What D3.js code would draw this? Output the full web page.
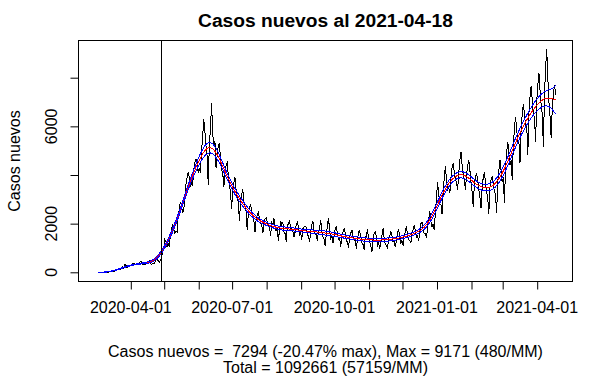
<!DOCTYPE html>
<html>
<head>
<meta charset="utf-8">
<script src="https://cdn.jsdelivr.net/npm/d3@7"></script>
<style>
  html, body { margin: 0; padding: 0; background: #fff; }
  svg text { font-family: "Liberation Sans", Arial, sans-serif; fill: #000; }
</style>
</head>
<body>
<script>
// ---------- data ----------
const startDate = "2020-03-03";
const casos = [
  1, 1, 2, 1, 3, 2, 3,
  4, 6, 10, 12, 18, 14, 40,
  45, 37, 104, 92, 97, 102, 114,
  176, 220, 164, 304, 299, 184, 250,
  289, 300, 293, 362, 373, 320, 310,
  301, 340, 380, 426, 450, 330, 330,
  312, 357, 355, 420, 481, 390, 330,
  345, 343, 400, 494, 552, 473, 420,
  480, 560, 850, 1000, 1350, 1250, 1050,
  1200, 1050, 1500, 1750, 2000, 1800, 1600,
  1700, 1650, 2300, 2600, 2900, 2700, 2450,
  2600, 3000, 3600, 3900, 4100, 3900, 3500,
  3700, 3600, 4200, 4500, 4650, 4500, 4100,
  4300, 4100, 5000, 5600, 6300, 5800, 5200,
  4800, 3600, 5300, 5900, 6950, 5700, 5200,
  5400, 4300, 4800, 5200, 5300, 4700, 4200,
  4100, 3500, 4000, 4400, 4500, 4000, 3600,
  3300, 2600, 3400, 3700, 3900, 3400, 3100,
  2900, 2100, 2900, 3200, 3400, 2900, 2700,
  2500, 1750, 2400, 2650, 2800, 2500, 2300,
  2100, 1650, 2150, 2350, 2450, 2200, 2000,
  1950, 1600, 2000, 2200, 2250, 2050, 1900,
  1900, 1500, 2050, 1950, 2230, 1850, 1700,
  1800, 1300, 1750, 2100, 1950, 2050, 1650,
  1600, 1260, 1900, 2000, 2150, 1750, 1800,
  1700, 1450, 1650, 1950, 2050, 1900, 1550,
  1650, 1350, 1800, 1850, 1900, 1850, 1500,
  1500, 1250, 1650, 1950, 2100, 1700, 1600,
  1550, 1300, 1700, 1800, 2150, 1650, 1450,
  1350, 1080, 1550, 1900, 2230, 1750, 1400,
  1500, 1200, 1450, 1800, 1850, 1600, 1350,
  1400, 1050, 1550, 1650, 1800, 1650, 1300,
  1250, 1000, 1500, 1600, 1750, 1500, 1350,
  1300, 980, 1350, 1650, 1700, 1450, 1200,
  1150, 920, 1400, 1500, 1780, 1400, 1250,
  1100, 850, 1350, 1600, 1650, 1500, 1100,
  1200, 950, 1250, 1500, 1800, 1400, 1150,
  1100, 1000, 1400, 1500, 1700, 1500, 1250,
  1250, 1050, 1300, 1650, 1750, 1450, 1200,
  1300, 1100, 1500, 1650, 1900, 1500, 1350,
  1300, 1200, 1600, 1750, 1950, 1700, 1450,
  1500, 1300, 1650, 2000, 2050, 1750, 1600,
  1600, 1400, 1850, 2200, 2500, 2100, 1850,
  2000, 1740, 2450, 3100, 3700, 3200, 2800,
  2800, 2400, 3300, 3900, 4350, 3800, 3400,
  3500, 3260, 3900, 4300, 4490, 4100, 3800,
  3700, 3390, 4100, 4600, 4960, 4400, 4000,
  3800, 3390, 4000, 4400, 4620, 4200, 3700,
  3300, 2700, 3600, 3900, 4070, 3800, 3400,
  3100, 2630, 3500, 3900, 4100, 3700, 3300,
  3100, 2400, 3500, 3800, 3950, 3700, 3300,
  3200, 2430, 3700, 4200, 4620, 4200, 3700,
  3900, 2840, 4300, 4900, 5370, 4900, 4400,
  4600, 3800, 5200, 5900, 6400, 5900, 5300,
  5400, 4490, 5900, 6500, 6900, 6500, 6000,
  6100, 4830, 6500, 7200, 7650, 7100, 6500,
  6400, 5370, 7000, 7700, 8190, 7500, 6900,
  6500, 5140, 7300, 8400, 9171, 8000, 7000,
  6400, 5510, 6800, 7300, 7700, 7294
];
const markDate = "2020-04-29";
const yTicks = [0, 2000, 4000, 6000, 8000];
const yTickLabels = ["0", "2000", "", "6000", ""];
const xTickLabelDates = ["2020-04-01", "2020-07-01", "2020-10-01", "2021-01-01", "2021-04-01"];
const titleText = "Casos nuevos al 2021-04-18";
const yTitle = "Casos nuevos";
const footer1 = "Casos nuevos =  7294 (-20.47% max), Max = 9171 (480/MM)";
const footer2 = "Total = 1092661 (57159/MM)";

// ---------- layout ----------
const W = 614, H = 379;
const box = { left: 78.5, right: 572.5, top: 40.5, bottom: 281.5 };

const parse = d3.utcParse("%Y-%m-%d");
const fmt = d3.utcFormat("%Y-%m-%d");
const t0 = parse(startDate);
const pts = casos.map((v, i) => ({ date: d3.utcDay.offset(t0, i), v }));

const x = d3.scaleUtc()
  .domain([parse("2020-04-01"), parse("2021-04-01")])
  .range([130.3, 536.7]);
const y = d3.scaleLinear().domain([0, 8000]).range([272.3, 77.7]);

// local linear (Gaussian kernel) smoother with a pointwise band
function smooth(vals, h, k) {
  const n = vals.length, fit = new Array(n), lsq = new Array(n);
  const R = Math.ceil(3 * h);
  for (let i = 0; i < n; i++) {
    let S0 = 0, S1 = 0, S2 = 0;
    const js = [];
    for (let j = Math.max(0, i - R); j <= Math.min(n - 1, i + R); j++) {
      const dx = j - i, w = Math.exp(-0.5 * (dx / h) ** 2);
      S0 += w; S1 += w * dx; S2 += w * dx * dx; js.push([j, w, dx]);
    }
    const den = S0 * S2 - S1 * S1;
    let f = 0, l2 = 0;
    for (const [j, w, dx] of js) {
      const l = w * (S2 - dx * S1) / den;
      f += l * vals[j]; l2 += l * l;
    }
    fit[i] = f; lsq[i] = l2;
  }
  const res = vals.map((v, i) => v - fit[i]);
  const lo = [], hi = [];
  for (let i = 0; i < n; i++) {
    let sw = 0, sr = 0;
    for (let j = Math.max(0, i - R); j <= Math.min(n - 1, i + R); j++) {
      const w = Math.exp(-0.5 * ((j - i) / h) ** 2);
      sw += w; sr += w * res[j] * res[j];
    }
    const se = Math.sqrt(sr / sw * lsq[i]);
    lo.push(fit[i] - k * se); hi.push(fit[i] + k * se);
  }
  return { fit, lo, hi };
}
const sm = smooth(casos, 6.5, 1.3);

// ---------- drawing ----------
const svg = d3.select("body").append("svg")
  .attr("width", W).attr("height", H)
  .attr("viewBox", `0 0 ${W} ${H}`);
svg.append("rect").attr("width", W).attr("height", H).attr("fill", "#fff");

const line = d3.line().x(d => x(d.date)).y(d => y(d.v));

function drawLine(data, color) {
  svg.append("path").datum(data)
    .attr("d", line).attr("fill", "none")
    .attr("stroke", color).attr("stroke-width", 1)
    .attr("shape-rendering", "crispEdges");
}
drawLine(pts, "#000");
drawLine(pts.map((p, i) => ({ date: p.date, v: sm.fit[i] })), "#ff0000");
drawLine(pts.map((p, i) => ({ date: p.date, v: sm.lo[i] })), "#0000ff");
drawLine(pts.map((p, i) => ({ date: p.date, v: sm.hi[i] })), "#0000ff");

// vertical marker
const mx = Math.round(x(parse(markDate))) + 0.5;
svg.append("line").attr("x1", mx).attr("x2", mx)
  .attr("y1", box.top).attr("y2", box.bottom)
  .attr("stroke", "#000").attr("stroke-width", 1);

// box
svg.append("rect")
  .attr("x", box.left).attr("y", box.top)
  .attr("width", box.right - box.left).attr("height", box.bottom - box.top)
  .attr("fill", "none").attr("stroke", "#000").attr("stroke-width", 1);

// x axis
const months = d3.utcMonth.range(parse("2020-04-01"), parse("2021-04-02"));
const labelled = new Set(xTickLabelDates);
const xAxis = d3.axisBottom(x).tickValues(months).tickSize(8)
  .tickFormat(d => labelled.has(fmt(d)) ? fmt(d) : "");
const gx = svg.append("g").attr("transform", `translate(0,${box.bottom})`).call(xAxis);
gx.select(".domain").remove();
gx.selectAll(".tick line").attr("stroke", "#000")
  .attr("transform", "translate(0.5,0)");
gx.selectAll(".tick text")
  .attr("y", 31.5).attr("dy", 0)
  .attr("font-size", 16).attr("fill", "#000")
  .style("font-family", '"Liberation Sans", Arial, sans-serif');

// y axis
const yAxis = d3.axisLeft(y).tickValues(yTicks).tickSize(8).tickFormat("");
const gy = svg.append("g").attr("transform", `translate(${box.left},0)`).call(yAxis);
gy.select(".domain").remove();
gy.selectAll(".tick line").attr("stroke", "#000");
yTicks.forEach((v, i) => {
  if (!yTickLabels[i]) return;
  svg.append("text")
    .attr("transform", `translate(56.5,${y(v)}) rotate(-90)`)
    .attr("text-anchor", "middle").attr("font-size", 16)
    .text(yTickLabels[i]);
});

// titles
svg.append("text")
  .attr("transform", `translate(19.5,${(box.top + box.bottom) / 2}) rotate(-90)`)
  .attr("text-anchor", "middle").attr("font-size", 16).text(yTitle);
svg.append("text")
  .attr("x", (box.left + box.right) / 2).attr("y", 27)
  .attr("text-anchor", "middle").attr("font-size", 19.2).attr("font-weight", "bold")
  .text(titleText);
svg.append("text")
  .attr("x", (box.left + box.right) / 2).attr("y", 356.5)
  .attr("text-anchor", "middle").attr("font-size", 16)
  .style("white-space", "pre").text(footer1);
svg.append("text")
  .attr("x", (box.left + box.right) / 2).attr("y", 373)
  .attr("text-anchor", "middle").attr("font-size", 16)
  .style("white-space", "pre").text(footer2);
</script>
</body>
</html>
